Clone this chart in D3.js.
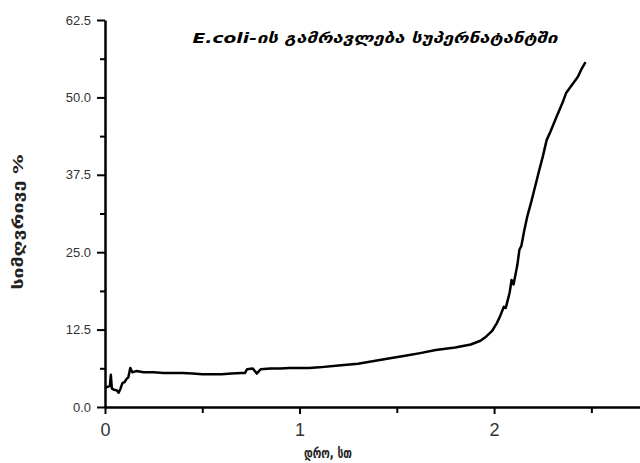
<!DOCTYPE html>
<html>
<head>
    <title>E.coli growth</title>
    <script src="https://d3js.org/d3.v7.min.js"></script>
    <style>
        body { margin: 0; background: #fff; }
        svg { display: block; }
        .tick text { font-family: Arial, "Liberation Sans", sans-serif; fill: #333; }
    </style>
</head>
<body>
    <div id="chart"></div>
    <script>
        // time, h
        const hours = [0, 0.01, 0.025, 0.03, 0.035, 0.045, 0.06, 0.07, 0.08, 0.09, 0.1, 0.11, 0.12, 0.13, 0.14, 0.16, 0.2, 0.25, 0.3, 0.35, 0.4, 0.45, 0.5, 0.55, 0.6, 0.65, 0.7, 0.72, 0.73, 0.76, 0.78, 0.8, 0.85, 0.9, 0.95, 1.0, 1.05, 1.1, 1.2, 1.3, 1.36, 1.45, 1.55, 1.62, 1.7, 1.8, 1.88, 1.93, 1.96, 1.99, 2.015, 2.03, 2.05, 2.06, 2.08, 2.09, 2.1, 2.12, 2.13, 2.14, 2.155, 2.17, 2.19, 2.21, 2.23, 2.25, 2.27, 2.29, 2.32, 2.35, 2.37, 2.4, 2.43, 2.45, 2.47];
        // turbidity, %
        const turbidity = [3.3, 3.2, 3.4, 5.2, 3.0, 2.8, 2.7, 2.3, 3.0, 3.9, 4.0, 4.5, 4.8, 6.3, 5.6, 5.8, 5.6, 5.6, 5.5, 5.5, 5.5, 5.4, 5.3, 5.3, 5.3, 5.4, 5.5, 5.5, 6.1, 6.2, 5.4, 6.1, 6.2, 6.2, 6.3, 6.3, 6.3, 6.4, 6.7, 7.0, 7.3, 7.8, 8.3, 8.7, 9.2, 9.6, 10.1, 10.7, 11.4, 12.3, 13.6, 14.6, 16.2, 16.0, 18.5, 20.5, 19.8, 23.0, 25.4, 26.0, 28.5, 30.7, 33.0, 35.5, 38.0, 40.4, 43.1, 44.5, 46.8, 49.0, 50.7, 52.0, 53.3, 54.6, 55.7];

        const yTicks = [0, 12.5, 25, 37.5, 50, 62.5];
        const yMinor = [6.25, 18.75, 31.25, 43.75, 56.25];
        const xTicks = [0, 1, 2];
        const xMinor = [0.5, 1.5, 2.5];

        const titleText = "E.coli-ის გამრავლება სუპერნატანტში";
        const xLabel = "დრო, სთ";
        const yLabel = "სიმღვრივე %";

        const width = 640, height = 463;
        const x0 = 105, x1 = 640, y0 = 407, y1 = 20;

        const svg = d3.select("#chart").append("svg")
            .attr("width", width)
            .attr("height", height);

        const x = d3.scaleLinear().domain([0, 2.75]).range([x0, x1]);
        const y = d3.scaleLinear().domain([0, 62.5]).range([y0, y1]);

        // minor ticks
        svg.append("g")
            .attr("transform", `translate(0,${y0})`)
            .call(d3.axisBottom(x).tickValues(xMinor).tickSize(6).tickFormat(""))
            .call(g => g.select(".domain").remove())
            .selectAll("line").attr("stroke", "#000").attr("stroke-width", 2);

        svg.append("g")
            .attr("transform", `translate(${x0},0)`)
            .call(d3.axisLeft(y).tickValues(yMinor).tickSize(5).tickFormat(""))
            .call(g => g.select(".domain").remove())
            .selectAll("line").attr("stroke", "#000").attr("stroke-width", 2);

        // major axes
        const xAxis = svg.append("g")
            .attr("transform", `translate(0,${y0})`)
            .call(d3.axisBottom(x).tickValues(xTicks).tickSize(7).tickSizeOuter(0).tickPadding(9).tickFormat(d3.format("d")));
        xAxis.select(".domain").attr("stroke", "#000").attr("stroke-width", 2.5);
        xAxis.selectAll(".tick line").attr("stroke", "#000").attr("stroke-width", 2);
        xAxis.selectAll(".tick text").attr("font-size", 18).attr("fill", "#222");

        const yAxis = svg.append("g")
            .attr("transform", `translate(${x0},0)`)
            .call(d3.axisLeft(y).tickValues(yTicks).tickSize(8).tickSizeOuter(0).tickPadding(6).tickFormat(d3.format(".1f")));
        yAxis.select(".domain").attr("stroke", "#000").attr("stroke-width", 2.5);
        yAxis.selectAll(".tick line").attr("stroke", "#000").attr("stroke-width", 2);
        yAxis.selectAll(".tick text").attr("font-size", 13).attr("fill", "#444");

        // data line
        const line = d3.line()
            .x((d, i) => x(hours[i]))
            .y(d => y(d));

        svg.append("path")
            .datum(turbidity)
            .attr("fill", "none")
            .attr("stroke", "#000")
            .attr("stroke-width", 2.5)
            .attr("stroke-linejoin", "round")
            .attr("d", line);

        // title and labels
        svg.append("text")
            .attr("x", 375).attr("y", 43)
            .attr("text-anchor", "middle")
            .attr("font-family", "DejaVu Sans, sans-serif")
            .attr("font-size", 14)
            .attr("font-weight", "bold")
            .attr("font-style", "italic")
            .attr("textLength", 365)
            .attr("lengthAdjust", "spacingAndGlyphs")
            .text(titleText);

        svg.append("text")
            .attr("x", 328).attr("y", 458)
            .attr("text-anchor", "middle")
            .attr("font-family", "DejaVu Sans, sans-serif")
            .attr("font-size", 14)
            .attr("font-weight", "bold")
            .attr("fill", "#222")
            .attr("textLength", 48)
            .attr("lengthAdjust", "spacingAndGlyphs")
            .text(xLabel);

        svg.append("text")
            .attr("transform", "translate(23,222) rotate(-90)")
            .attr("text-anchor", "middle")
            .attr("font-family", "DejaVu Sans, sans-serif")
            .attr("font-size", 14)
            .attr("font-weight", "bold")
            .attr("fill", "#222")
            .attr("textLength", 135)
            .attr("lengthAdjust", "spacingAndGlyphs")
            .text(yLabel);
    </script>
</body>
</html>
